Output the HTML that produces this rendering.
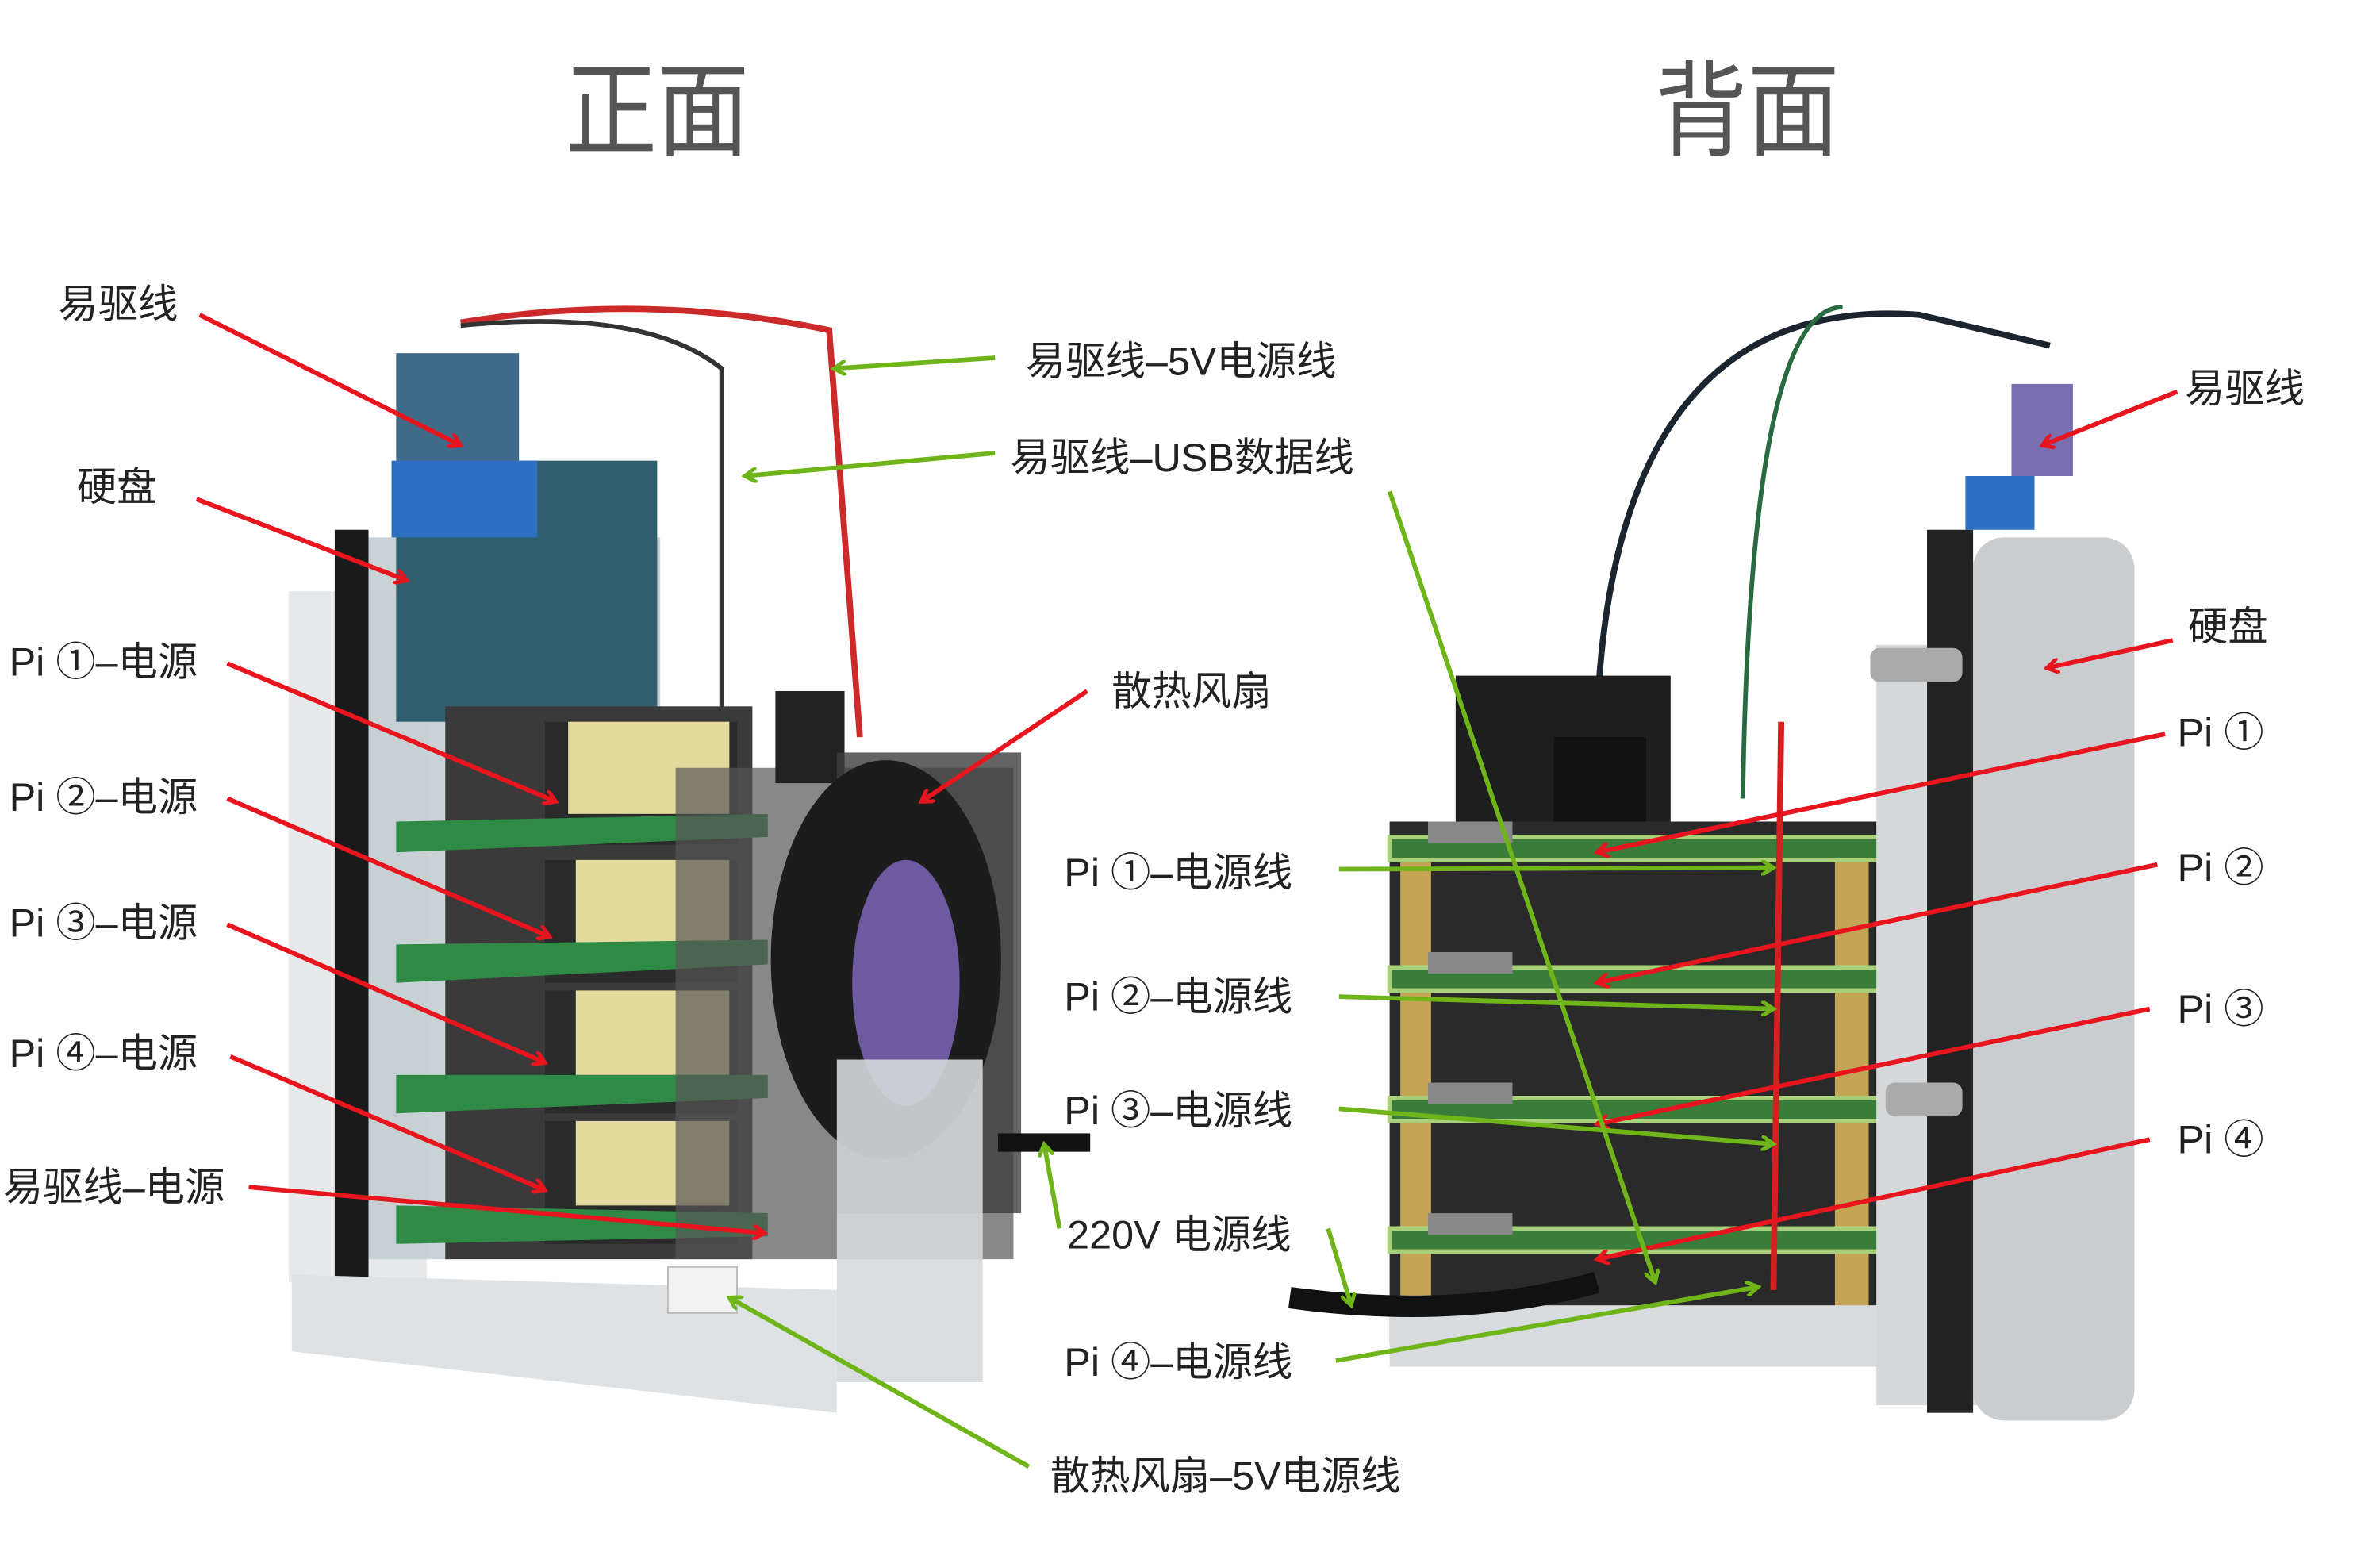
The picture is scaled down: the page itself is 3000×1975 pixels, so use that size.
<!DOCTYPE html>
<html><head><meta charset="utf-8"><style>
html,body{margin:0;padding:0;background:#fff}
svg{display:block}
text{font-family:"Liberation Sans","Noto Sans CJK SC",sans-serif;fill:#222}
</style></head><body>
<svg width="3000" height="1975" viewBox="0 0 1550 1020.4" preserveAspectRatio="none" xmlns="http://www.w3.org/2000/svg">
<defs>
<marker id="ar" markerWidth="10" markerHeight="10" refX="8" refY="5" orient="auto" markerUnits="userSpaceOnUse" viewBox="0 0 10 10"><path d="M0,0 L8,5 L0,10" fill="none" stroke="#e8141e" stroke-width="2.5"/></marker>
<marker id="ag" markerWidth="10" markerHeight="10" refX="8" refY="5" orient="auto" markerUnits="userSpaceOnUse" viewBox="0 0 10 10"><path d="M0,0 L8,5 L0,10" fill="none" stroke="#6fb51a" stroke-width="2.5"/></marker>
</defs>
<rect width="1550" height="1021" fill="#fff"/>
<text x="428" y="96" font-size="68" text-anchor="middle" style="fill:#555" textLength="120" lengthAdjust="spacingAndGlyphs">正面</text>
<text x="1138" y="96" font-size="68" text-anchor="middle" style="fill:#555" textLength="120" lengthAdjust="spacingAndGlyphs">背面</text>

<g>
 <rect x="188" y="385" width="90" height="450" fill="#e6e8ea"/>
 <rect x="218" y="345" width="22" height="490" fill="#1a1a1a"/>
 <rect x="240" y="350" width="190" height="470" fill="#c3cdd0" opacity="0.9"/>
 <rect x="258" y="300" width="170" height="170" fill="#2f5f6e"/>
 <rect x="255" y="300" width="95" height="50" fill="#2d6fc2"/>
 <rect x="258" y="230" width="80" height="70" fill="#3f6a88"/>
 <path d="M300 210 Q420 190 540 215 L560 480" fill="none" stroke="#cc2a2a" stroke-width="4"/>
 <path d="M300 212 Q420 200 470 240 L470 470" fill="none" stroke="#333" stroke-width="3"/>
 <rect x="290" y="460" width="200" height="360" fill="#3a3a3a"/>
 <g fill="#2a2a2a"><rect x="355" y="470" width="125" height="80"/><rect x="355" y="560" width="125" height="80"/><rect x="355" y="645" width="125" height="80"/><rect x="355" y="730" width="125" height="80"/></g>
 <g fill="#e3db9c"><rect x="370" y="470" width="105" height="60"/><rect x="375" y="560" width="100" height="55"/><rect x="375" y="645" width="100" height="55"/><rect x="375" y="730" width="100" height="55"/></g>
 <g fill="#2f8a45"><polygon points="258,535 500,530 500,545 258,555"/><polygon points="258,615 500,612 500,628 258,640"/><polygon points="258,700 500,700 500,715 258,725"/><polygon points="258,785 500,790 500,805 258,810"/></g>
 <rect x="440" y="500" width="220" height="320" fill="#555" opacity="0.7"/>
 <rect x="505" y="450" width="45" height="60" fill="#222"/>
 <rect x="545" y="490" width="120" height="300" fill="#3d3d3d" opacity="0.8"/>
 <ellipse cx="577" cy="625" rx="75" ry="130" fill="#1c1c1c"/>
 <ellipse cx="590" cy="640" rx="35" ry="80" fill="#6e5aa0"/>
 <rect x="545" y="690" width="95" height="210" fill="#d5d9dc" opacity="0.9"/>
 <polygon points="190,830 545,840 545,920 190,880" fill="#dfe2e4"/>
 <rect x="650" y="738" width="60" height="12" fill="#111"/>
 <rect x="435" y="825" width="45" height="30" fill="#f2f2f2" stroke="#bbb"/>
</g>

<g>
 <path d="M1040 470 Q1050 190 1250 205 L1335 225" fill="none" stroke="#1a2530" stroke-width="4"/>
 <path d="M1135 520 Q1140 200 1200 200" fill="none" stroke="#2a6a40" stroke-width="3"/>
 <rect x="948" y="440" width="140" height="100" fill="#1e1e1e"/>
 <rect x="1012" y="480" width="60" height="60" fill="#111"/>
 <rect x="905" y="535" width="320" height="340" fill="#2a2a2a"/>
 <g fill="#c3a555"><rect x="912" y="545" width="20" height="320"/><rect x="1195" y="555" width="22" height="320"/></g>
 <g fill="#3a7d3a" stroke="#a8d07a" stroke-width="3"><rect x="905" y="545" width="320" height="15"/><rect x="905" y="630" width="320" height="15"/><rect x="905" y="715" width="320" height="15"/><rect x="905" y="800" width="320" height="15"/></g>
 <g fill="#888"><rect x="930" y="535" width="55" height="14"/><rect x="930" y="620" width="55" height="14"/><rect x="930" y="705" width="55" height="14"/><rect x="930" y="790" width="55" height="14"/></g>
 <rect x="905" y="850" width="320" height="40" fill="#d8dcde"/>
 <path d="M840 845 Q950 860 1040 835" fill="none" stroke="#111" stroke-width="14"/>
 <line x1="1160" y1="470" x2="1155" y2="840" stroke="#d42020" stroke-width="4"/>
 <rect x="1222" y="420" width="80" height="495" fill="#d6d9db"/>
 <rect x="1255" y="345" width="30" height="575" fill="#222"/>
 <rect x="1285" y="350" width="105" height="575" rx="20" fill="#c9cdd0"/>
 <rect x="1280" y="310" width="45" height="35" fill="#2d6fc2"/>
 <rect x="1310" y="250" width="40" height="60" fill="#7a6fb0"/>
 <g fill="#aaa"><rect x="1218" y="422" width="60" height="22" rx="6"/><rect x="1228" y="705" width="50" height="22" rx="6"/></g>
</g>

<g font-size="26">
 <text x="38" y="207">易驱线</text>
 <text x="50" y="326">硬盘</text>
 <text x="6" y="440">Pi ①–电源</text>
 <text x="6" y="528">Pi ②–电源</text>
 <text x="6" y="610">Pi ③–电源</text>
 <text x="6" y="695">Pi ④–电源</text>
 <text x="2" y="782">易驱线–电源</text>
</g>
<g font-size="26">
 <text x="668" y="244">易驱线–5V电源线</text>
 <text x="658" y="307">易驱线–USB数据线</text>
 <text x="724" y="459">散热风扇</text>
 <text x="693" y="577">Pi ①–电源线</text>
 <text x="693" y="658">Pi ②–电源线</text>
 <text x="693" y="732">Pi ③–电源线</text>
 <text x="695" y="813">220V 电源线</text>
 <text x="693" y="896">Pi ④–电源线</text>
 <text x="684" y="970">散热风扇–5V电源线</text>
</g>
<g font-size="26">
 <text x="1423" y="262">易驱线</text>
 <text x="1425" y="417">硬盘</text>
 <text x="1418" y="486">Pi ①</text>
 <text x="1418" y="574">Pi ②</text>
 <text x="1418" y="666">Pi ③</text>
 <text x="1418" y="751">Pi ④</text>
</g>

<g stroke="#e8141e" stroke-width="3" fill="none" marker-end="url(#ar)">
 <line x1="130" y1="205" x2="300" y2="290"/>
 <line x1="128" y1="325" x2="265" y2="378"/>
 <line x1="148" y1="432" x2="362" y2="522"/>
 <line x1="148" y1="520" x2="358" y2="610"/>
 <line x1="148" y1="602" x2="355" y2="692"/>
 <line x1="150" y1="688" x2="355" y2="775"/>
 <line x1="162" y1="773" x2="498" y2="803"/>
 <line x1="708" y1="450" x2="600" y2="522"/>
 <line x1="1418" y1="255" x2="1330" y2="290"/>
 <line x1="1415" y1="417" x2="1333" y2="435"/>
 <line x1="1410" y1="478" x2="1040" y2="555"/>
 <line x1="1405" y1="563" x2="1040" y2="640"/>
 <line x1="1400" y1="657" x2="1040" y2="732"/>
 <line x1="1400" y1="742" x2="1040" y2="820"/>
</g>
<g stroke="#6fb51a" stroke-width="3" fill="none" marker-end="url(#ag)">
 <line x1="648" y1="233" x2="543" y2="240"/>
 <line x1="648" y1="295" x2="485" y2="310"/>
 <line x1="905" y1="320" x2="1078" y2="835"/>
 <line x1="872" y1="566" x2="1155" y2="565"/>
 <line x1="872" y1="649" x2="1155" y2="657"/>
 <line x1="872" y1="722" x2="1155" y2="745"/>
 <polyline points="690,800 680,745"/>
 <polyline points="865,800 880,850"/>
 <line x1="870" y1="886" x2="1145" y2="838"/>
 <line x1="670" y1="955" x2="475" y2="845"/>
</g>
</svg>
</body></html>
